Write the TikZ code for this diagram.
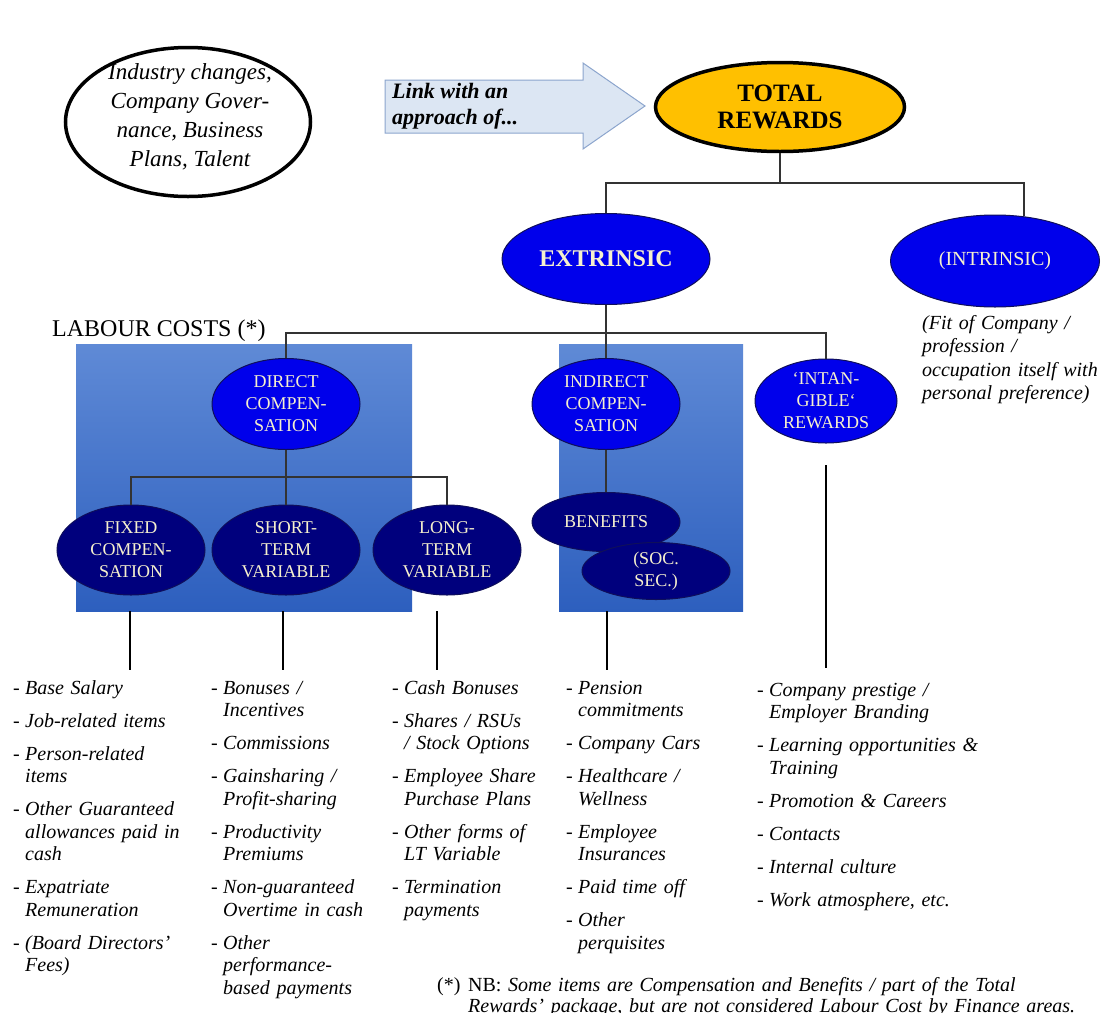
\documentclass[tikz,border=0pt]{standalone}
\usepackage{fontspec}
\setmainfont{Liberation Serif}
\usetikzlibrary{shapes.geometric,positioning,calc}
\definecolor{ellblue}{RGB}{0,0,235}
\definecolor{ellnavy}{RGB}{0,0,125}
\definecolor{ellrim}{RGB}{15,15,90}
\definecolor{txtcream}{RGB}{246,240,205}
\definecolor{gold}{RGB}{255,192,0}
\definecolor{arrowfill}{RGB}{220,230,243}
\definecolor{arrowrim}{RGB}{140,165,205}
\definecolor{boxtop}{RGB}{95,138,214}
\definecolor{boxbot}{RGB}{45,95,190}
\newcommand{\itm}{\hangindent=12pt\hangafter=1\makebox[12pt][l]{-}}

\begin{document}
\begin{tikzpicture}[x=1pt,y=-1pt,
	conn/.style={draw=black!80,line width=1.6pt},
	drop/.style={draw=black,line width=2.6pt},
	bigell/.style={ellipse,draw=ellrim,line width=1pt,fill=ellblue,text=txtcream,inner sep=0pt,align=center},
	subell/.style={ellipse,draw=ellrim,line width=1pt,fill=ellnavy,text=txtcream,inner sep=0pt,align=center,minimum width=148pt,minimum height=90pt,font=\fontsize{18}{22}\selectfont},
	costbox/.style={rectangle,inner sep=0pt,top color=boxtop,bottom color=boxbot,anchor=north west},
	itemlist/.style={anchor=base west,inner sep=0pt,align=left,font=\fontsize{20}{22.5}\selectfont\itshape}]
		\useasboundingbox (0,0) rectangle (1107,1012);
		\node[ellipse,draw=black,line width=3.5pt,minimum width=245pt,minimum height=149pt,inner sep=0pt] (context) at (188,122) {};
		\node[align=center,font=\fontsize{23}{29}\selectfont\itshape] (contexttext) at (190,117) {Industry changes,\\Company Gover-\\nance, Business\\Plans, Talent};
		\filldraw[fill=arrowfill,draw=arrowrim,line width=1pt] (385,80) -- (583,80) -- (583,63) -- (645,106) -- (583,149) -- (583,133) -- (385,133) -- cycle;
		\node[anchor=west,align=left,inner sep=0pt,font=\fontsize{22}{26}\selectfont\bfseries\itshape] (link) at (392,106) {Link with an\\approach of...};
		\node[ellipse,draw=black,line width=3.5pt,fill=gold,minimum width=249pt,minimum height=89pt,inner sep=0pt,align=center,font=\fontsize{25}{27}\selectfont\bfseries] (total) at (780,107) {TOTAL\\REWARDS};
		\node[bigell,minimum width=208pt,minimum height=91pt,font=\fontsize{24}{26}\selectfont\bfseries] (extr) at (606,259) {EXTRINSIC};
		\node[bigell,minimum width=209pt,minimum height=92pt,font=\fontsize{20}{24}\selectfont] (intr) at (995,261) {(INTRINSIC)};
		\node[anchor=base west,align=left,inner sep=0pt,text width=185pt,font=\fontsize{20}{23.5}\selectfont\itshape] (intrnote) at (922,329) {(Fit of Company /\\profession /\\occupation itself with\\personal preference)};
		\node[costbox,minimum width=336pt,minimum height=267pt] (lbox) at (76,344) {};
		\node[costbox,minimum width=184pt,minimum height=267pt] (rbox) at (559,344) {};
		\node[anchor=base west,inner sep=0pt,font=\fontsize{24}{26}\selectfont] (labour) at (52,336) {LABOUR COSTS (*)};
		\node[bigell,minimum width=148pt,minimum height=91pt,font=\fontsize{18}{22}\selectfont] (direct) at (286,404) {DIRECT\\COMPEN-\\SATION};
		\node[bigell,minimum width=148pt,minimum height=91pt,font=\fontsize{18}{22}\selectfont] (indirect) at (606,404) {INDIRECT\\COMPEN-\\SATION};
		\node[bigell,minimum width=142pt,minimum height=84pt,font=\fontsize{18}{22}\selectfont] (intang) at (826,401) {‘INTAN-\\GIBLE‘\\REWARDS};
		\node[subell] (fixed) at (131,550) {FIXED\\COMPEN-\\SATION};
		\node[subell] (short) at (286,550) {SHORT-\\TERM\\VARIABLE};
		\node[subell] (long) at (447,550) {LONG-\\TERM\\VARIABLE};
		\node[subell,minimum height=59pt] (benef) at (606,522) {BENEFITS};
		\node[subell,minimum height=57pt] (socsec) at (656,571) {(SOC.\\SEC.)};
		\coordinate (j1) at (780,183);
		\coordinate (j2) at (606,333);
		\coordinate (j3) at (286,477);
		\draw[conn] (total.south) -- (j1);
		\draw[conn] (extr.north) |- (j1) -| (intr.57);
		\draw[conn] (extr.south) -- (j2) -- (indirect.north);
		\draw[conn] (direct.north) |- (j2) -| (intang.north);
		\draw[conn] (direct.south) -- (j3) -- (short.north);
		\draw[conn] (fixed.north) |- (j3) -| (long.north);
		\draw[conn] (indirect.south) -- (benef.north);
		\coordinate (dfix) at (130,611);
		\coordinate (dshort) at (283,611);
		\coordinate (dlong) at (437,611);
		\coordinate (dind) at (607,611);
		\coordinate (dint) at (826,465);
		\foreach \d in {dfix,dshort,dlong,dind}
			\draw[drop] (\d) -- ++(0,59);
		\draw[drop] (dint) -- ++(0,203);
		\node[itemlist,text width=190pt] (fixlist) at (13,694) {\itm Base Salary\\[10.5pt]\itm Job-related items\\[10.5pt]\itm Person-related\newline items\\[10.5pt]\itm Other Guaranteed\newline allowances paid in\newline cash\\[10.5pt]\itm Expatriate\newline Remuneration\\[10.5pt]\itm (Board Directors’\newline Fees)\par};
		\node[itemlist,text width=175pt] (stlist) at (211,694) {\itm Bonuses /\newline Incentives\\[10.5pt]\itm Commissions\\[10.5pt]\itm Gainsharing /\newline Profit-sharing\\[10.5pt]\itm Productivity\newline Premiums\\[10.5pt]\itm Non-guaranteed\newline Overtime in cash\\[10.5pt]\itm Other\newline performance-\newline based payments\par};
		\node[itemlist,text width=170pt] (ltlist) at (392,694) {\itm Cash Bonuses\\[10.5pt]\itm Shares / RSUs\newline / Stock Options\\[10.5pt]\itm Employee Share\newline Purchase Plans\\[10.5pt]\itm Other forms of\newline LT Variable\\[10.5pt]\itm Termination\newline payments\par};
		\node[itemlist,text width=180pt] (benlist) at (566,694) {\itm Pension\newline commitments\\[10.5pt]\itm Company Cars\\[10.5pt]\itm Healthcare /\newline Wellness\\[10.5pt]\itm Employee\newline Insurances\\[10.5pt]\itm Paid time off\\[10.5pt]\itm Other\newline perquisites\par};
		\node[itemlist,text width=280pt] (intlist) at (757,696) {\itm Company prestige /\newline Employer Branding\\[10.5pt]\itm Learning opportunities \&\newline Training\\[10.5pt]\itm Promotion \& Careers\\[10.5pt]\itm Contacts\\[10.5pt]\itm Internal culture\\[10.5pt]\itm Work atmosphere, etc.\par};
		\node[anchor=base west,inner sep=0pt,font=\fontsize{20}{21}\selectfont] (star) at (437,991) {(*)};
		\node[anchor=base west,inner sep=0pt,align=left,text width=635pt,font=\fontsize{20}{21}\selectfont\itshape] (note) at (468,991) {\upshape NB:\itshape\ Some items are Compensation and Benefits / part of the Total\\Rewards’ package, but are not considered Labour Cost by Finance areas.};
\end{tikzpicture}
\end{document}
